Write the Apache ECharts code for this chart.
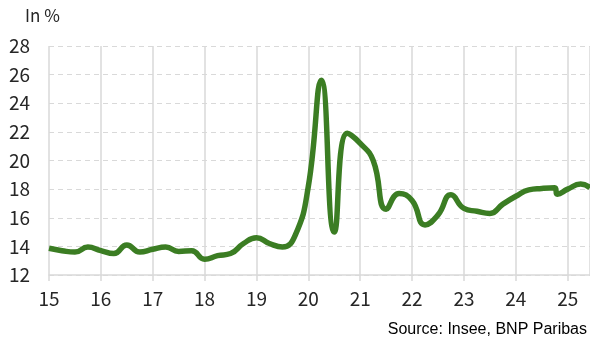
<!DOCTYPE html>
<html>
<head>
<meta charset="utf-8">
<script src="https://cdn.jsdelivr.net/npm/echarts@6/dist/echarts.min.js"></script>
<style>
html,body{margin:0;padding:0;background:#fff;}
#c{width:590px;height:339px;}
</style>
</head>
<body>
<div id="c"></div>
<script>
// Quarter positions (year fraction, 15 = 2015) and savings rate values (%)
const xPos = [15.00,15.25,15.50,15.75,16.00,16.25,16.50,16.75,17.00,17.25,17.50,17.75,
  18.00,18.25,18.50,18.75,19.00,19.25,19.50,19.75,20.00,20.25,20.50,20.75,
  21.00,21.25,21.50,21.75,22.00,22.25,22.50,22.75,23.00,23.25,23.50,23.75,
  24.00,24.25,24.50,24.75,24.80,25.00,25.25,25.43];
const rate = [13.87,13.70,13.60,13.95,13.70,13.50,14.10,13.60,13.80,13.95,13.65,13.70,
  13.10,13.35,13.50,14.20,14.60,14.20,13.95,14.80,18.20,25.60,15.00,21.90,
  21.20,20.00,16.60,17.70,17.20,15.50,16.20,17.60,16.65,16.45,16.30,16.95,
  17.50,17.95,18.05,18.10,17.65,18.00,18.35,18.10];
const yTicks = [12,14,16,18,20,22,24,26,28];
const xTicks = [15,16,17,18,19,20,21,22,23,24,25];

const chart = echarts.init(document.getElementById('c'));
const fontFam = '"Noto Sans CJK SC","Noto Sans",sans-serif';
chart.setOption({
  animation:false,
  grid:{left:49,right:0,top:46,bottom:64},
  graphic:[
    {type:'text',left:25,top:7,style:{text:'In %',font:'17px '+fontFam,fill:'#262626'}},
    {type:'text',right:3,top:322,style:{text:'Source: Insee, BNP Paribas',font:'16px "Liberation Sans",Arial,sans-serif',fill:'#000'}}
  ],
  xAxis:{type:'value',min:15,max:25.43,interval:1,
    axisLine:{show:true,lineStyle:{color:'#d9d9d9',width:1.5}},
    axisTick:{show:true,length:6,lineStyle:{color:'#d9d9d9',width:1.5}},
    axisLabel:{color:'#262626',fontSize:19,fontFamily:fontFam,margin:14,showMaxLabel:false,
      formatter:v=>xTicks.indexOf(v)>=0?String(v):''},
    splitLine:{show:true,lineStyle:{color:'#d9d9d9',width:1.5}}
  },
  yAxis:{type:'value',min:12,max:28,interval:2,
    axisLine:{show:false},axisTick:{show:false},
    axisLabel:{color:'#262626',fontSize:19,fontFamily:fontFam,margin:19,
      formatter:v=>yTicks.indexOf(v)>=0?String(v):''},
    splitLine:{show:true,lineStyle:{color:'#d9d9d9',type:[5,4],width:1}}
  },
  series:[{type:'line',data:xPos.map((x,i)=>[x,rate[i]]),smooth:0.5,showSymbol:false,
    lineStyle:{color:'#3B7D23',width:5.5},clip:true}]
});
</script>
</body>
</html>
